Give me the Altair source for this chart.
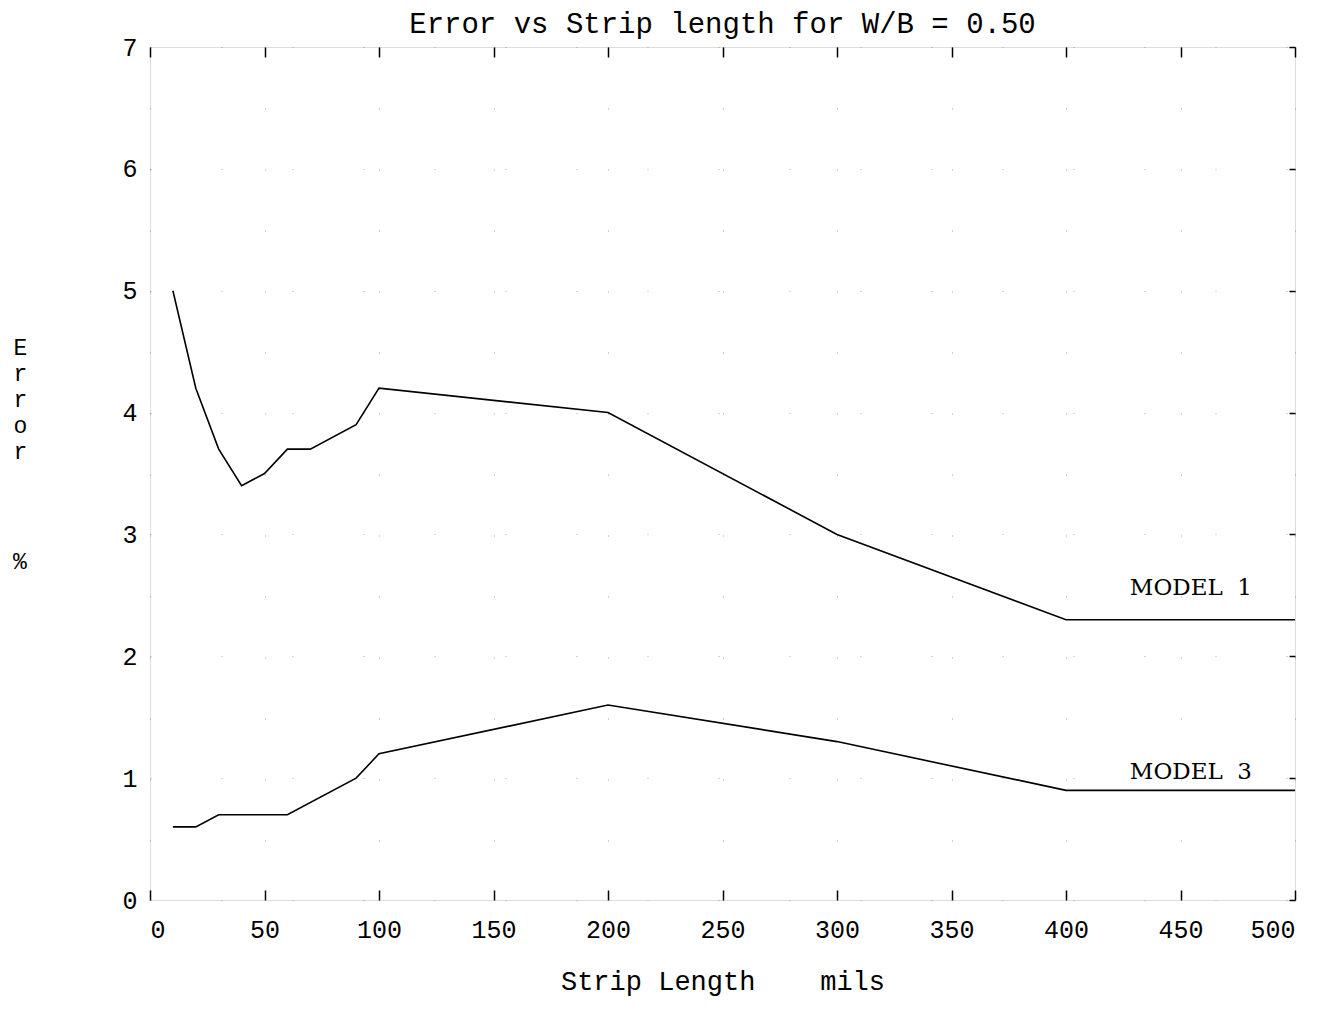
import altair as alt
import pandas as pd

# Model 1 error (%) vs strip length (mils)
len_m1 = [10, 20, 30, 40, 50, 60, 70, 90, 100, 200, 300, 400, 500]
err_m1 = [5.0, 4.2, 3.7, 3.4, 3.5, 3.7, 3.7, 3.9, 4.2, 4.0, 3.0, 2.3, 2.3]

# Model 3 error (%) vs strip length (mils)
len_m3 = [10, 20, 30, 50, 60, 90, 100, 200, 300, 400, 500]
err_m3 = [0.6, 0.6, 0.7, 0.7, 0.7, 1.0, 1.2, 1.6, 1.3, 0.9, 0.9]

x_ticks = [0, 50, 100, 150, 200, 250, 300, 350, 400, 450, 500]
y_ticks = [0, 1, 2, 3, 4, 5, 6, 7]
series_names = ["MODEL\u00a0\u00a01", "MODEL\u00a0\u00a03"]

df = pd.concat([
    pd.DataFrame({"length": len_m1, "error": err_m1, "model": series_names[0]}),
    pd.DataFrame({"length": len_m3, "error": err_m3, "model": series_names[1]}),
])

MONO = "Liberation Mono"
NB = "\u00a0"
xs = alt.Scale(domain=[0, 500], nice=False, zero=False)
ys = alt.Scale(domain=[0, 7], nice=False)

lines = alt.Chart(df).mark_line(color="black", strokeWidth=1.6).encode(
    x=alt.X("length:Q", scale=xs,
            axis=alt.Axis(values=x_ticks, orient="bottom", offset=-10, tickSize=10,
                          tickColor="black", tickWidth=1.5, domain=False,
                          grid=True, gridColor="#777", gridDash=[1, 60], gridOpacity=0.7,
                          labelFont=MONO, labelFontSize=25, labelColor="black",
                          labelPadding=17,
                          title="Strip" + NB + "Length" + NB * 4 + "mils",
                          titleFont=MONO, titleFontSize=27, titleFontWeight="normal",
                          titleColor="black", titleY=99, titleBaseline="alphabetic")),
    y=alt.Y("error:Q", scale=ys,
            axis=alt.Axis(values=y_ticks, orient="left", ticks=False, domain=False,
                          grid=True, gridColor="#777", gridDash=[1, 70], gridOpacity=0.6,
                          labelFont=MONO, labelFontSize=25, labelColor="black",
                          labelPadding=13,
                          title=["E", "r", "r", "o", "r"],
                          titleAngle=0, titleX=-130, titleY=289, titleAlign="center",
                          titleBaseline="top", titleLineHeight=26,
                          titleFont=MONO, titleFontSize=23, titleFontWeight="normal",
                          titleColor="black")),
    detail="model:N",
)

top_axis = alt.Chart(df).mark_line(opacity=0).encode(
    x=alt.X("length:Q", scale=xs,
            axis=alt.Axis(values=x_ticks, orient="top", offset=-10, tickSize=10,
                          tickColor="black", tickWidth=1.5, domain=False,
                          labels=False, grid=False, title=None)),
    y=alt.Y("error:Q", scale=ys,
            axis=alt.Axis(values=y_ticks, orient="right", offset=-6, tickSize=6,
                          tickColor="black", tickWidth=1.5, domain=False,
                          labels=False, grid=False, title=None)),
    detail="model:N",
)

pct = alt.Chart(pd.DataFrame({"label": ["%"]})).mark_text(
    font=MONO, fontSize=23, align="center", baseline="middle", color="black"
).encode(x=alt.value(-130), y=alt.value(515), text="label:N")

lab1 = alt.Chart(pd.DataFrame({"label": [series_names[0]]})).mark_text(
    font="DejaVu Serif", fontSize=23, align="right", baseline="middle", color="black"
).encode(x=alt.value(1102), y=alt.value(541), text="label:N")

lab3 = alt.Chart(pd.DataFrame({"label": [series_names[1]]})).mark_text(
    font="DejaVu Serif", fontSize=23, align="right", baseline="middle", color="black"
).encode(x=alt.value(1102), y=alt.value(725), text="label:N")

chart = alt.layer(lines, top_axis, pct, lab1, lab3).resolve_axis(
    x="independent", y="independent"
).properties(
    width=1145, height=853,
    title=alt.TitleParams("Error vs Strip length for W/B = 0.50", font=MONO,
                          fontSize=29, fontWeight="normal", color="black",
                          anchor="middle", offset=18, dy=22),
    autosize=alt.AutoSizeParams(type="none"),
    padding={"left": 142, "top": 39, "right": 20, "bottom": 100},
).configure_view(stroke="black", strokeWidth=2.5).configure(background="white")

chart.save("out.html", embed_options={"renderer": "svg", "actions": False})
